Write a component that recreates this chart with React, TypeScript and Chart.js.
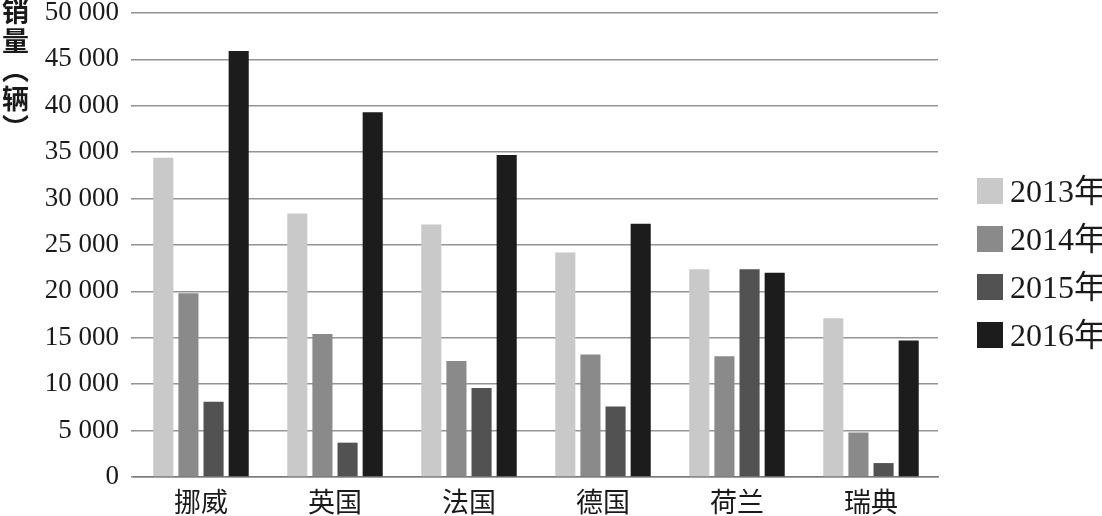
import React, { useEffect, useRef } from "react";
import { Chart, registerables } from "chart.js";

Chart.register(...registerables);

const categories = ["挪威", "英国", "法国", "德国", "荷兰", "瑞典"];
const seriesNames = ["2013年", "2014年", "2015年", "2016年"];
const sales2013 = [34400, 28400, 27200, 24200, 22400, 17100];
const sales2014 = [19800, 15400, 12500, 13200, 13000, 4800];
const sales2015 = [8100, 3700, 9600, 7600, 22400, 1500];
const sales2016 = [45900, 39300, 34700, 27300, 22000, 14700];
const seriesColors = ["#c9c9c9", "#8a8a8a", "#525252", "#1c1c1c"];
const yTitle = "销量（辆）";

const W = 1102;
const H = 516;

function fmt(v: number): string {
  const s = String(Math.round(v));
  return s.replace(/\B(?=(\d{3})+(?!\d))/g, " ");
}

export default function App() {
  const ref = useRef<HTMLCanvasElement | null>(null);

  useEffect(() => {
    if (!ref.current) return;
    const values = [sales2013, sales2014, sales2015, sales2016];
    const chart = new Chart(ref.current, {
      type: "bar",
      data: {
        labels: categories,
        datasets: seriesNames.map((name, i) => ({
          label: name,
          data: values[i],
          backgroundColor: seriesColors[i],
          borderWidth: 0,
          categoryPercentage: 0.75,
          barPercentage: 0.8,
        })),
      },
      options: {
        responsive: false,
        animation: false,
        devicePixelRatio: 1,
        layout: { padding: { left: 0, right: 164, top: 0, bottom: 0 } },
        plugins: {
          legend: { display: false },
          tooltip: { enabled: false },
          title: { display: false },
        },
        scales: {
          x: {
            grid: { display: false, drawTicks: false },
            border: { display: true, color: "#7a7a7a", width: 1.5 },
            ticks: {
              color: "#1a1a1a",
              padding: 14,
              font: { family: '"Liberation Serif", "Noto Sans CJK SC"', size: 27, lineHeight: 1 },
            },
            afterFit: (scale: any) => {
              scale.height = 39;
            },
          },
          y: {
            min: 0,
            max: 50000,
            grid: { color: "#949494", lineWidth: 1.6, tickLength: 3, drawTicks: true },
            border: { display: false },
            ticks: {
              stepSize: 5000,
              color: "#1a1a1a",
              padding: 12,
              font: { family: '"Liberation Serif", serif', size: 27, lineHeight: 1 },
              callback: (v) => fmt(Number(v)),
            },
            afterFit: (scale: any) => {
              scale.width = 134;
              scale.paddingTop = 13;
              scale.paddingBottom = 0;
            },
          },
        },
      },
    });
    return () => chart.destroy();
  }, []);

  return (
    <div
      style={{
        position: "fixed",
        left: 0,
        top: 0,
        width: W,
        height: H,
        overflow: "hidden",
        background: "#ffffff",
      }}
    >
      <canvas ref={ref} width={W} height={H} style={{ width: W, height: H, display: "block" }} />
      <div
        style={{
          position: "absolute",
          left: 0,
          top: -2,
          width: 30,
          writingMode: "vertical-rl",
          lineHeight: "30px",
          letterSpacing: 2,
          fontFamily: '"Noto Sans CJK SC", sans-serif',
          fontSize: 27,
          fontWeight: 700,
          color: "#1a1a1a",
        }}
      >
        {yTitle}
      </div>
      {seriesNames.map((name, i) => (
        <div
          key={name}
          style={{
            position: "absolute",
            left: 977,
            top: 178 + i * 48,
            height: 26,
            display: "flex",
            alignItems: "center",
            whiteSpace: "nowrap",
          }}
        >
          <span
            style={{
              display: "inline-block",
              width: 26,
              height: 26,
              background: seriesColors[i],
            }}
          />
          <span
            style={{
              marginLeft: 7,
              fontFamily: '"Liberation Serif", "Noto Sans CJK SC", serif',
              fontSize: 32,
              color: "#1a1a1a",
              lineHeight: "26px",
            }}
          >
            {name}
          </span>
        </div>
      ))}
    </div>
  );
}
